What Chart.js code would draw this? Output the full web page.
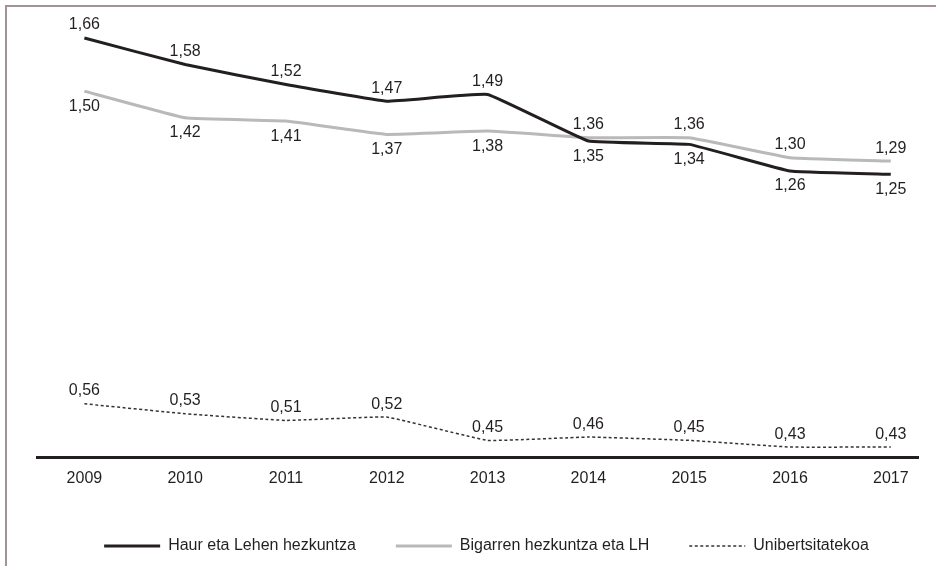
<!DOCTYPE html>
<html>
<head>
<meta charset="utf-8">
<title>Haur eta Lehen hezkuntza</title>
<script src="https://cdn.jsdelivr.net/npm/chart.js@4/dist/chart.umd.min.js"></script>
<style>
    body { margin: 0; background: #fff; }
    #wrap { position: relative; width: 936px; height: 566px; }
    #frame { position: absolute; left: 5px; top: 5px; right: 0; bottom: 0; border-left: 2px solid #a39399; border-top: 2px solid #a39399; }
    #chart { position: absolute; left: 0; top: 0; }
</style>
</head>
<body>
<div id="wrap">
    <div id="frame"></div>
    <canvas id="chart" width="936" height="566"></canvas>
</div>
<script>
        const years = [2009, 2010, 2011, 2012, 2013, 2014, 2015, 2016, 2017];
        const haurLehen = [1.66, 1.58, 1.52, 1.47, 1.49, 1.35, 1.34, 1.26, 1.25];
        const bigarren = [1.50, 1.42, 1.41, 1.37, 1.38, 1.36, 1.36, 1.30, 1.29];
        const unibertsitatea = [0.56, 0.53, 0.51, 0.52, 0.45, 0.46, 0.45, 0.43, 0.43];
        const seriesNames = ['Haur eta Lehen hezkuntza', 'Bigarren hezkuntza eta LH', 'Unibertsitatekoa'];

        // -1 = label above the point, 1 = below
        const labelSide = [
            [-1, -1, -1, -1, -1, 1, 1, 1, 1],
            [1, 1, 1, 1, 1, -1, -1, -1, -1],
            [-1, -1, -1, -1, -1, -1, -1, -1, -1]
        ];

        const textColor = '#231f20';
        const fontFamily = '"Liberation Sans", Arial, Helvetica, sans-serif';

        const toPoints = values => values.map((v, i) => ({ x: years[i], y: v }));

        const valueLabels = {
            id: 'valueLabels',
            afterDatasetsDraw(chart) {
                const ctx = chart.ctx;
                ctx.save();
                ctx.font = '16px ' + fontFamily;
                ctx.fillStyle = textColor;
                ctx.textAlign = 'center';
                ctx.textBaseline = 'alphabetic';
                chart.data.datasets.forEach((ds, d) => {
                    chart.getDatasetMeta(d).data.forEach((pt, i) => {
                        const txt = ds.data[i].y.toFixed(2).replace('.', ',');
                        const dy = labelSide[d][i] < 0 ? -8.5 : 19.5;
                        ctx.fillText(txt, pt.x, pt.y + dy);
                    });
                });
                ctx.restore();
            }
        };

        new Chart(document.getElementById('chart'), {
            type: 'line',
            data: {
                datasets: [{
                    label: seriesNames[0],
                    data: toPoints(haurLehen),
                    borderColor: '#231f20',
                    borderWidth: 3,
                    pointRadius: 0,
                    tension: 0.08
                }, {
                    label: seriesNames[1],
                    data: toPoints(bigarren),
                    borderColor: '#b9b9b9',
                    borderWidth: 3,
                    pointRadius: 0,
                    tension: 0.08
                }, {
                    label: seriesNames[2],
                    data: toPoints(unibertsitatea),
                    borderColor: '#333333',
                    borderWidth: 1.5,
                    borderDash: [3, 2.5],
                    pointRadius: 0,
                    tension: 0.08
                }]
            },
            plugins: [valueLabels],
            options: {
                responsive: false,
                animation: false,
                layout: {
                    padding: { top: 18, left: 37, right: 0, bottom: 2 }
                },
                plugins: {
                    tooltip: { enabled: false },
                    legend: {
                        position: 'bottom',
                        labels: {
                            usePointStyle: true,
                            pointStyle: 'line',
                            pointStyleWidth: 56,
                            padding: 40,
                            color: textColor,
                            font: { family: fontFamily, size: 16 },
                            generateLabels: chart => {
                                const items = Chart.defaults.plugins.legend.labels.generateLabels(chart);
                                items.forEach((item, i) => {
                                    const ds = chart.data.datasets[i];
                                    item.lineDash = ds.borderDash || [];
                                    item.lineWidth = ds.borderWidth;
                                    item.strokeStyle = ds.borderColor;
                                });
                                return items;
                            }
                        }
                    }
                },
                scales: {
                    x: {
                        type: 'linear',
                        min: 2008.53,
                        max: 2017.27,
                        afterBuildTicks: scale => {
                            scale.ticks = years.map(v => ({ value: v }));
                        },
                        afterFit: scale => {
                            scale.height = 41;
                        },
                        grid: { display: false, drawTicks: false },
                        border: { display: true, color: '#231f20', width: 3 },
                        ticks: {
                            padding: 12,
                            color: textColor,
                            font: { family: fontFamily, size: 16 },
                            callback: v => String(v)
                        }
                    },
                    y: {
                        position: 'right',
                        min: 0.4,
                        max: 1.72,
                        afterFit: scale => {
                            scale.width = 18;
                        },
                        grid: { display: false },
                        border: { display: false },
                        ticks: { display: false }
                    }
                }
            }
        });
</script>
</body>
</html>
